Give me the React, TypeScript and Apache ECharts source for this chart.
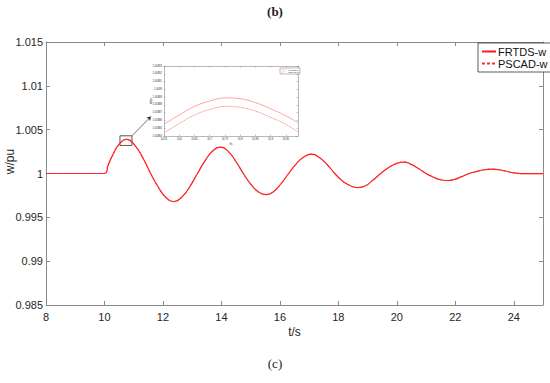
import React, { useEffect, useRef } from "react";
import * as echarts from "echarts";

const tData = [8, 10, 10.13, 10.26, 10.51, 10.77, 11.04, 11.31, 11.58, 11.85, 12.11, 12.38, 12.65, 12.91, 13.18, 13.45, 13.71, 13.98, 14.24, 14.49, 14.75, 15.01, 15.26, 15.52, 15.78, 16.04, 16.3, 16.56, 16.83, 17.09, 17.35, 17.62, 17.88, 18.14, 18.41, 18.67, 18.93, 19.19, 19.45, 19.71, 19.98, 20.24, 20.49, 20.75, 21.0, 21.24, 21.47, 21.71, 21.97, 22.22, 22.48, 22.74, 22.99, 23.25, 23.5, 23.75, 24.0, 24.4, 25];
const frtdsW = [1, 1, 1.001, 1.00195, 1.00337, 1.00389, 1.0032, 1.0018, 1.0, 0.9984, 0.99723, 0.9968, 0.99732, 0.99845, 1.0, 1.0015, 1.0026, 1.003, 1.0025, 1.0014, 1.0, 0.99875, 0.99792, 0.9976, 0.99792, 0.99885, 1.0, 1.0011, 1.0019, 1.0022, 1.00182, 1.001, 1.0, 0.99915, 0.99861, 0.9984, 0.99861, 0.99925, 1.0, 1.00065, 1.00113, 1.0013, 1.00104, 1.00055, 1.0, 0.9996, 0.99931, 0.9992, 0.99932, 0.99965, 1.0, 1.00025, 1.00043, 1.0005, 1.00043, 1.00026, 1.00008, 0.99998, 0.99998];
const pscadW = frtdsW;

const insetT = [10.55, 10.6, 10.65, 10.7, 10.75, 10.8, 10.85, 10.9, 10.95, 10.99];
const insetFrtds = [1.003855, 1.003867, 1.003878, 1.003885, 1.003889, 1.003888, 1.003883, 1.003875, 1.003866, 1.003857];
const insetPscad = [1.003844, 1.003856, 1.003867, 1.003874, 1.003878, 1.003877, 1.003872, 1.003864, 1.003855, 1.003845];

const seriesNames = ["FRTDS-w", "PSCAD-w"];
const zoomBox = [[10.53, 1.0043], [10.94, 1.0032]];
const arrowLine = [[10.94, 1.0043], [11.59, 1.0065]];

const FONT = "Liberation Sans, Arial, sans-serif";
const AX = "#8a8a8a";
const TXT = "#262626";

export default function App() {
  const ref = useRef<HTMLDivElement>(null);
  useEffect(() => {
    if (!ref.current) return;
    const chart = echarts.init(ref.current, undefined, { renderer: "svg" });
    const pair = (ts: number[], vs: number[]) => ts.map((t, i) => [t, vs[i]]);
    const frame = { show: true, lineStyle: { color: AX, width: 1 } };
    const tick = (len: number) => ({ show: true, inside: true, length: len, lineStyle: { color: AX } });
    const smallLine = { show: true, lineStyle: { color: AX, width: 0.6 } };
    const smallTick = { show: true, inside: true, length: 1.5, lineStyle: { color: AX, width: 0.5 } };
    chart.setOption({
      animation: false,
      backgroundColor: "#fff",
      title: [
        { text: "(b)", left: "center", top: 0, textStyle: { fontFamily: "Liberation Serif, serif", fontSize: 13, fontWeight: "bold", color: "#222" } },
        { text: "(c)", left: "center", top: 352, textStyle: { fontFamily: "Liberation Serif, serif", fontSize: 13, fontWeight: "normal", color: "#222" } },
      ],
      legend: [
        {
          data: seriesNames,
          orient: "vertical",
          left: 478,
          top: 43,
          padding: [3, 3, 3, 3],
          itemGap: 1,
          itemWidth: 14,
          itemHeight: 8,
          backgroundColor: "#fff",
          borderColor: "#333",
          borderWidth: 0.8,
          itemStyle: { opacity: 0 },
          textStyle: { fontFamily: FONT, fontSize: 11, color: "#111", padding: [0, 0, 0, -3] },
          selectedMode: false,
        },
        {
          data: seriesNames,
          orient: "vertical",
          left: 280,
          top: 68,
          padding: [1, 1, 1, 1],
          itemGap: 0,
          itemWidth: 5,
          itemHeight: 2,
          backgroundColor: "#fff",
          borderColor: "#555",
          borderWidth: 0.4,
          itemStyle: { opacity: 0 },
          lineStyle: { color: "#ff8c8c", width: 0.5 },
          textStyle: { fontFamily: FONT, fontSize: 2.4, color: "#333", padding: [0, 0, 0, -3] },
          selectedMode: false,
          z: 10,
        },
      ],
      grid: [
        { left: 46, top: 42, width: 497, height: 263, containLabel: false, outerBoundsMode: "none" },
        { left: 164, top: 66, width: 134, height: 70, show: true, backgroundColor: "#fff", borderWidth: 0, z: 5, outerBoundsMode: "none" },
      ],
      xAxis: [
        {
          type: "value", gridIndex: 0, min: 8, max: 25, interval: 2, position: "bottom",
          name: "t/s", nameLocation: "middle", nameGap: 21, nameMoveOverlap: false,
          nameTextStyle: { fontFamily: FONT, fontSize: 12, color: TXT },
          axisLine: frame, axisTick: tick(4), splitLine: { show: false },
          axisLabel: { fontFamily: FONT, fontSize: 11, color: TXT, margin: 6, showMaxLabel: false },
        },
        {
          type: "value", gridIndex: 0, min: 8, max: 25, interval: 2, position: "top",
          axisLine: frame, axisTick: tick(4), splitLine: { show: false }, axisLabel: { show: false },
        },
        {
          type: "value", gridIndex: 1, min: 10.55, max: 10.99, interval: 0.05, position: "bottom",
          name: "t/s", nameLocation: "middle", nameGap: 6, nameMoveOverlap: false,
          nameTextStyle: { fontFamily: FONT, fontSize: 2.8, color: TXT },
          axisLine: smallLine, axisTick: smallTick, splitLine: { show: false },
          axisLabel: { fontFamily: FONT, fontSize: 2.6, color: TXT, margin: 2, showMaxLabel: false, formatter: (v: number) => String(+v.toFixed(2)) },
          z: 6,
        },
        {
          type: "value", gridIndex: 1, min: 10.55, max: 10.99, interval: 0.05, position: "top",
          axisLine: smallLine, axisTick: smallTick, splitLine: { show: false }, axisLabel: { show: false }, z: 6,
        },
      ],
      yAxis: [
        {
          type: "value", gridIndex: 0, min: 0.985, max: 1.015, interval: 0.005, position: "left",
          name: "w/pu", nameLocation: "middle", nameGap: 30, nameMoveOverlap: false,
          nameTextStyle: { fontFamily: FONT, fontSize: 12, color: TXT, padding: [0, 0, 0, 24] },
          axisLine: frame, axisTick: tick(4), splitLine: { show: false },
          axisLabel: { fontFamily: FONT, fontSize: 11, color: TXT, margin: 3, formatter: (v: number) => String(+v.toFixed(3)) },
        },
        {
          type: "value", gridIndex: 0, min: 0.985, max: 1.015, interval: 0.005, position: "right",
          axisLine: frame, axisTick: tick(4), splitLine: { show: false }, axisLabel: { show: false },
        },
        {
          type: "value", gridIndex: 1, min: 1.00384, max: 1.00393, interval: 0.00001, position: "left",
          name: "w/pu", nameLocation: "middle", nameGap: 12, nameMoveOverlap: false,
          nameTextStyle: { fontFamily: FONT, fontSize: 2.8, color: TXT },
          axisLine: smallLine, axisTick: smallTick, splitLine: { show: false },
          axisLabel: { fontFamily: FONT, fontSize: 2.6, color: TXT, margin: 2, formatter: (v: number) => String(+v.toFixed(5)) },
          z: 6,
        },
        {
          type: "value", gridIndex: 1, min: 1.00384, max: 1.00393, interval: 0.00001, position: "right",
          axisLine: smallLine, axisTick: smallTick, splitLine: { show: false }, axisLabel: { show: false }, z: 6,
        },
      ],
      series: [
        {
          name: seriesNames[0], type: "line", xAxisIndex: 0, yAxisIndex: 0,
          data: pair(tData, frtdsW), smooth: 0.5, symbol: "none",
          lineStyle: { color: "#ff1a1a", width: 1.2 }, itemStyle: { color: "#ff1a1a" },
          markArea: {
            silent: true,
            itemStyle: { color: "rgba(0,0,0,0)", borderColor: "#444", borderWidth: 0.9 },
            data: [[{ coord: zoomBox[0] }, { coord: zoomBox[1] }]],
          },
          markLine: {
            silent: true, symbol: ["none", "arrow"], symbolSize: 4,
            lineStyle: { color: "#333", width: 0.7, type: "solid" }, label: { show: false },
            data: [[{ coord: arrowLine[0] }, { coord: arrowLine[1] }]],
          },
        },
        {
          name: seriesNames[1], type: "line", xAxisIndex: 0, yAxisIndex: 0,
          data: pair(tData, pscadW), smooth: 0.5, symbol: "none",
          lineStyle: { color: "#ff3030", width: 0.9, type: [3, 2] }, itemStyle: { color: "#ff3030" },
        },
        {
          name: seriesNames[0], type: "line", xAxisIndex: 2, yAxisIndex: 2,
          data: pair(insetT, insetFrtds), smooth: 0.4, symbol: "none", z: 7,
          lineStyle: { color: "#ff8c8c", width: 0.8 },
        },
        {
          name: seriesNames[1], type: "line", xAxisIndex: 2, yAxisIndex: 2,
          data: pair(insetT, insetPscad), smooth: 0.4, symbol: "none", z: 7,
          lineStyle: { color: "#ff8c8c", width: 0.8, type: [2, 0.6] },
        },
      ],
    });
    return () => chart.dispose();
  }, []);
  return <div ref={ref} style={{ position: "absolute", left: 0, top: 0, width: 550, height: 383 }} />;
}
